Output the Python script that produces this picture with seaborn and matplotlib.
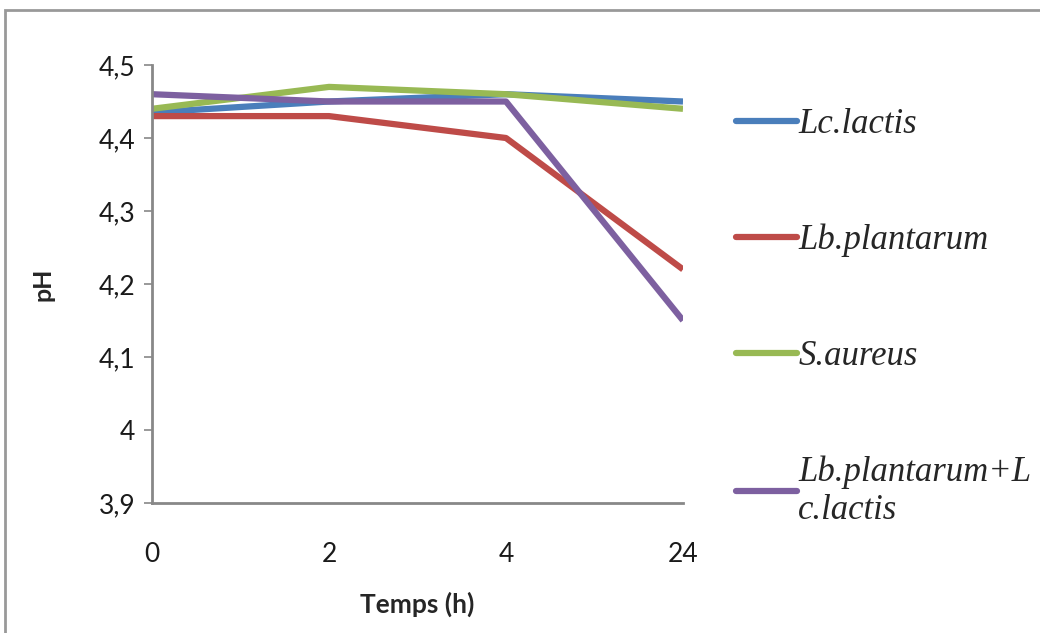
import matplotlib
matplotlib.use("Agg")
import matplotlib.pyplot as plt
import seaborn as sns
import pandas as pd
from matplotlib.patches import Rectangle
from matplotlib.ticker import FuncFormatter

times = ["0", "2", "4", "24"]
lc_lactis = [4.435, 4.45, 4.46, 4.45]
lb_plantarum = [4.43, 4.43, 4.40, 4.22]
s_aureus = [4.44, 4.47, 4.46, 4.44]
lb_lc = [4.46, 4.45, 4.45, 4.15]
series_names = ["Lc.lactis", "Lb.plantarum", "S.aureus", "Lb.plantarum+L\nc.lactis"]
colors = ["#4A7EBB", "#BE4B48", "#98B954", "#7D60A0"]
yticks = [3.9, 4.0, 4.1, 4.2, 4.3, 4.4, 4.5]

rows = []
for name, vals in zip(series_names, [lc_lactis, lb_plantarum, s_aureus, lb_lc]):
    for i, (t, v) in enumerate(zip(times, vals)):
        rows.append({"idx": i, "Temps": t, "pH": v, "serie": name})
df = pd.DataFrame(rows)

sns.set_style("white")
plt.rcParams["font.family"] = ["Lato", "DejaVu Sans"]

fig = plt.figure(figsize=(10.4, 6.33), dpi=100)
ax = fig.add_axes([152/1040, 1 - 503/633, (683-152)/1040, (503-65)/633])

sns.lineplot(data=df, x="idx", y="pH", hue="serie", palette=colors,
             hue_order=series_names, linewidth=4.5, ax=ax, legend=True,
             solid_capstyle="butt")

ax.set_xlim(0, 3)
ax.set_ylim(3.9, 4.5)
ax.set_xticks(range(len(times)))
ax.set_xticklabels(times)
ax.set_yticks(yticks)
ax.yaxis.set_major_formatter(FuncFormatter(lambda v, p: ("%g" % round(v, 1)).replace(".", ",")))
ax.tick_params(axis="both", labelsize=19, colors="#1a1a1a")
ax.tick_params(axis="y", length=6, width=1.2, color="#888888", direction="out", pad=6, left=True)
ax.tick_params(axis="x", length=0, pad=28)
for s in ["top", "right"]:
    ax.spines[s].set_visible(False)
for s in ["left", "bottom"]:
    ax.spines[s].set_color("#888888")
    ax.spines[s].set_linewidth(2)

ax.set_xlabel("Temps (h)", fontsize=19, fontweight="bold", labelpad=18)
ax.set_ylabel("pH", fontsize=18, fontweight="bold", labelpad=32)

handles, labels = ax.get_legend_handles_labels()
leg = ax.legend(handles, labels, loc="upper left", bbox_to_anchor=(722/1040, 1 - 94/633),
                bbox_transform=fig.transFigure, frameon=False,
                prop={"family": "Liberation Serif", "style": "italic", "size": 25},
                labelspacing=2.38, handlelength=1.75, handletextpad=0.05, borderaxespad=0)
for h in leg.get_lines():
    h.set_linewidth(4.5)
    h.set_solid_capstyle("round")

fig.patches.append(Rectangle((5/1040, -0.05), 1.1, 1 - 10/633 + 0.05, transform=fig.transFigure,
                             fill=False, edgecolor="#999999", linewidth=2))

fig.savefig("out.png", dpi=100)
